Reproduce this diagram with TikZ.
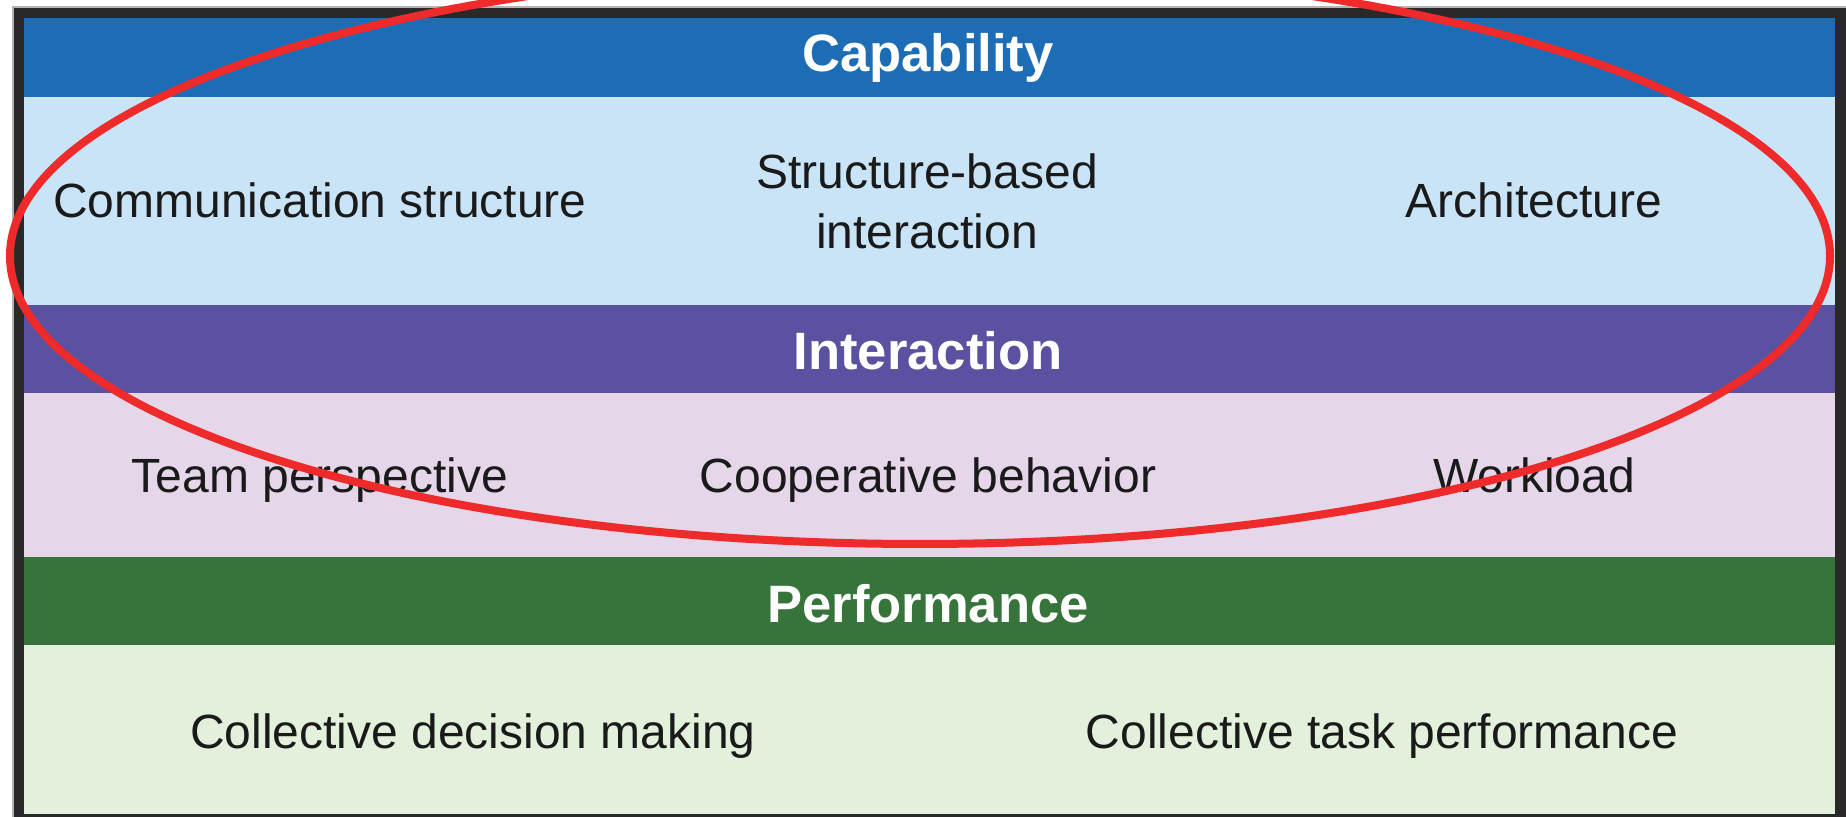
\documentclass[tikz,border=0pt]{standalone}
\usepackage{fontspec}
\setmainfont{Liberation Sans}
\definecolor{capblue}{HTML}{1C6DB5}
\definecolor{caplight}{HTML}{C9E4F6}
\definecolor{intpurple}{HTML}{5A51A0}
\definecolor{intlight}{HTML}{E5D6EA}
\definecolor{perfgreen}{HTML}{36743B}
\definecolor{perflight}{HTML}{E2F0DC}
\definecolor{frame}{HTML}{2A2829}
\definecolor{framegray}{HTML}{B4B4B4}
\definecolor{ringred}{HTML}{EE2A2A}
\definecolor{txt}{HTML}{1A1A1A}
\tikzset{
  header/.style={text=white, font=\fontsize{26.3}{30}\selectfont\bfseries, inner sep=0pt, anchor=base},
  item/.style={text=txt, font=\fontsize{24}{30}\selectfont, inner sep=0pt, anchor=base},
  item2/.style={text=txt, font=\fontsize{24}{30}\selectfont, inner sep=0pt, align=center, anchor=center},
}
\begin{document}
\begin{tikzpicture}[x=0.5pt,y=-0.5pt]
\clip (0,0) rectangle (1846,817);
\fill[white] (0,0) rectangle (1846,817);
% frame
\fill[frame, draw=framegray, line width=0.6pt] (13,7) rectangle (1860,830);
% bands
\fill[capblue]   (24,18)  rectangle (1835,97);
\fill[caplight]  (24,97)  rectangle (1835,305);
\fill[intpurple] (24,305) rectangle (1835,393);
\fill[intlight]  (24,393) rectangle (1835,557);
\fill[perfgreen] (24,557) rectangle (1835,645);
\fill[perflight] (24,645) rectangle (1835,814);
% headers
\node[header] (cap)  at (928,72)  {Capability};
\node[header] (int)  at (928,370) {Interaction};
\node[header] (perf) at (928,622) {Performance};
% capability items
\node[item]  (comm) at (320,218)  {Communication structure};
\node[item2] (sbi)  at (927,201)  {Structure-based\\interaction};
\node[item]  (arch) at (1534,218) {Architecture};
% interaction items
\node[item] (team) at (320,493)  {Team perspective};
\node[item] (coop) at (928,493)  {Cooperative behavior};
\node[item] (work) at (1534,493) {Workload};
% performance items
\node[item] (cdm) at (473,748)  {Collective decision making};
\node[item] (ctp) at (1382,748) {Collective task performance};
% red ellipse
\draw[ringred, line width=4pt] (920,256) ellipse [x radius=455pt, y radius=144pt];
\end{tikzpicture}
\end{document}
